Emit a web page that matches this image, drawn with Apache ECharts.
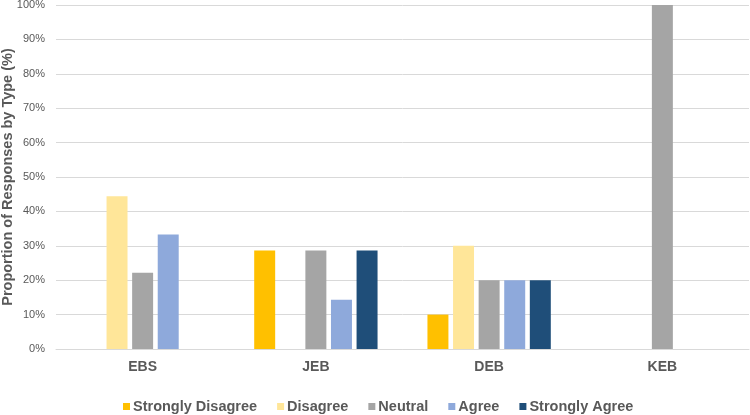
<!DOCTYPE html>
<html><head><meta charset="utf-8">
<script src="https://cdn.jsdelivr.net/npm/echarts@6/dist/echarts.min.js"></script>
<style>html,body{margin:0;padding:0;background:#fff}#c{width:750px;height:415px}</style>
</head><body><div id="c"></div>
<script>
const categories = ['EBS', 'JEB', 'DEB', 'KEB'];
const seriesNames = ['Strongly Disagree', 'Disagree', 'Neutral', 'Agree', 'Strongly Agree'];
const stronglyDisagree = [0, 28.6, 10, 0];
const disagree = [44.4, 0, 30, 0];
const neutral = [22.2, 28.6, 20, 100];
const agree = [33.3, 14.3, 20, 0];
const stronglyAgree = [0, 28.6, 20, 0];
const colors = ['#FFC000', '#FFE699', '#A5A5A5', '#8EA9DB', '#1F4E79'];
const values = [stronglyDisagree, disagree, neutral, agree, stronglyAgree];

const chart = echarts.init(document.getElementById('c'));
chart.setOption({
  animation: false,
  textStyle: { fontFamily: 'Liberation Sans, Arial, sans-serif' },
  grid: { left: 56, right: 1, top: 5, bottom: 66, containLabel: false, outerBoundsMode: 'none' },
  legend: {
    bottom: 1, left: 123, padding: 0, itemWidth: 7, itemHeight: 7, itemGap: 20,
    icon: 'rect',
    textStyle: { color: '#595959', fontSize: 14.5, fontWeight: 'bold', padding: [0, 0, 0, -2] },
    data: seriesNames
  },
  xAxis: {
    type: 'category', data: categories,
    axisLine: { lineStyle: { color: '#D9D9D9' } },
    axisTick: { show: false },
    axisLabel: { color: '#595959', fontSize: 14, fontWeight: 'bold', margin: 11 }
  },
  yAxis: {
    type: 'value', min: 0, max: 100, interval: 10,
    name: 'Proportion of Responses by Type (%)', nameLocation: 'middle', nameGap: 41,
    nameMoveOverlap: false,
    nameTextStyle: { color: '#595959', fontSize: 14.5, fontWeight: 'bold' },
    axisLabel: { color: '#595959', fontSize: 11, margin: 11, formatter: '{value}%' },
    splitLine: { lineStyle: { color: '#D9D9D9' } },
    axisLine: { show: false }, axisTick: { show: false }
  },
  series: seriesNames.map((n, i) => ({
    name: n, type: 'bar', data: values[i],
    barGap: '22%', barCategoryGap: '28.8%',
    itemStyle: { color: colors[i] }
  }))
});
</script></body></html>
